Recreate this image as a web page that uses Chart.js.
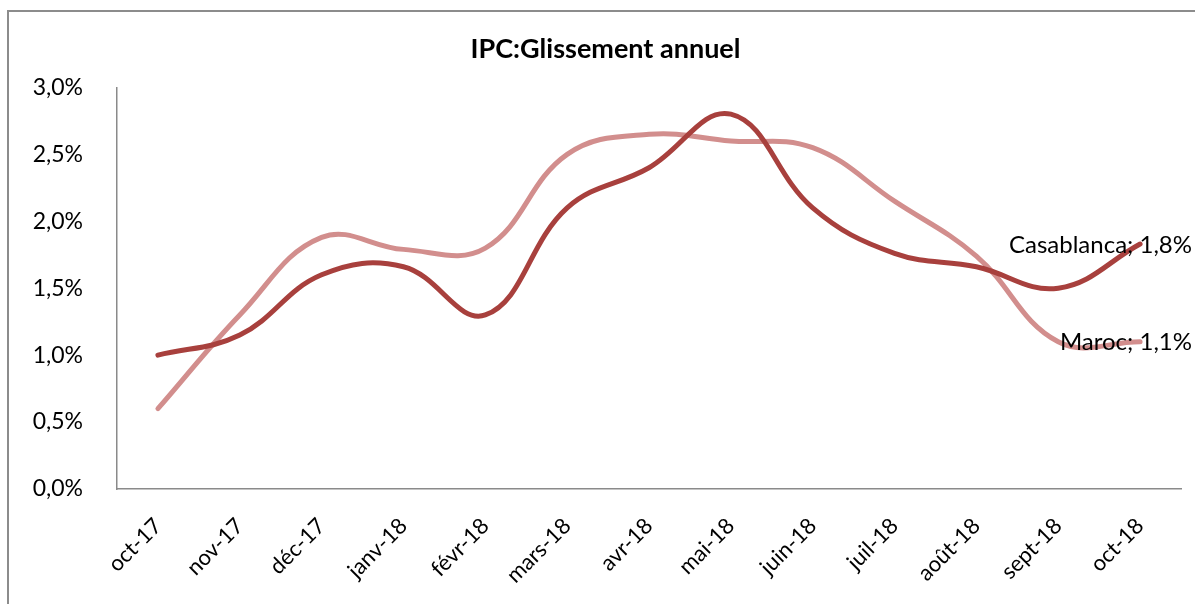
<!DOCTYPE html>
<html>
<head>
<meta charset="utf-8">
<script src="https://cdn.jsdelivr.net/npm/chart.js@4/dist/chart.umd.min.js"></script>
<style>
  html, body { margin: 0; padding: 0; background: #fff; }
  #wrap { position: relative; width: 1195px; height: 604px; }
  #frame { position: absolute; left: 7px; top: 10px; width: 1200px; height: 700px;
           border-top: 2px solid #8c8c8c; border-left: 2px solid #8c8c8c; pointer-events: none; }
</style>
</head>
<body>
<div id="wrap">
  <canvas id="ipcChart" width="1195" height="604"></canvas>
  <div id="frame"></div>
</div>
<script>
const months = ['oct-17', 'nov-17', 'déc-17', 'janv-18', 'févr-18', 'mars-18', 'avr-18',
  'mai-18', 'juin-18', 'juil-18', 'août-18', 'sept-18', 'oct-18']
const casablanca = [1.0, 1.15, 1.6, 1.66, 1.3, 2.1, 2.4, 2.8, 2.1, 1.76, 1.66, 1.5, 1.83]
const maroc = [0.6, 1.3, 1.88, 1.79, 1.8, 2.5, 2.65, 2.6, 2.55, 2.15, 1.74, 1.1, 1.1]
const yTicks = [0, 0.5, 1.0, 1.5, 2.0, 2.5, 3.0]

const fmt = (v) => v.toFixed(1).replace('.', ',') + '%'
const FONT = 'Lato, "Open Sans", sans-serif'

// label on the last point of each series, like the Excel data labels
const lastLabels = {
  id: 'lastLabels',
  afterDatasetsDraw(chart) {
    const ctx = chart.ctx
    ctx.save()
    ctx.font = '24px ' + FONT
    ctx.fillStyle = '#000'
    ctx.textAlign = 'right'
    ctx.textBaseline = 'middle'
    chart.data.datasets.forEach((ds, i) => {
      const meta = chart.getDatasetMeta(i)
      const pt = meta.data[meta.data.length - 1]
      const v = ds.data[ds.data.length - 1]
      ctx.fillText(ds.label + '; ' + fmt(v), chart.width - 3, pt.y + 1)
    })
    ctx.restore()
  },
}

const ctx = document.getElementById('ipcChart').getContext('2d')
const myChart = new Chart(ctx, {
  type: 'line',
  data: {
    labels: months,
    datasets: [
      {
        label: 'Casablanca',
        data: casablanca,
        borderColor: '#a8403d',
        borderWidth: 5,
        pointRadius: 0,
        tension: 0.4,
        borderCapStyle: 'round',
      },
      {
        label: 'Maroc',
        data: maroc,
        borderColor: '#d28e8d',
        borderWidth: 5,
        pointRadius: 0,
        tension: 0.4,
        borderCapStyle: 'round',
      },
    ],
  },
  options: {
    responsive: false,
    animation: false,
    layout: { padding: { left: 30, right: 14, top: 0, bottom: 0 } },
    plugins: {
      legend: { display: false },
      tooltip: { enabled: false },
      title: {
        display: true,
        text: 'IPC:Glissement annuel',
        color: '#000',
        font: { family: FONT, size: 27, weight: 'bold' },
        padding: { top: 33, bottom: 22 },
      },
    },
    scales: {
      x: {
        offset: true,
        grid: { display: false },
        border: { display: true, color: '#8a8a8a', width: 1.5 },
        ticks: {
          color: '#000',
          font: { family: FONT, size: 22 },
          minRotation: 45,
          maxRotation: 45,
          padding: 16,
        },
        afterFit(scale) { scale.height = 115 },
      },
      y: {
        min: 0,
        max: 3,
        grid: { display: false },
        border: { display: true, color: '#8a8a8a', width: 1.5 },
        ticks: {
          color: '#000',
          font: { family: FONT, size: 23 },
          stepSize: 0.5,
          padding: 26,
          callback: (v) => (yTicks.includes(v) ? fmt(v) : ''),
        },
        afterFit(scale) { scale.width = 87 },
      },
    },
  },
  plugins: [lastLabels],
})
</script>
</body>
</html>
